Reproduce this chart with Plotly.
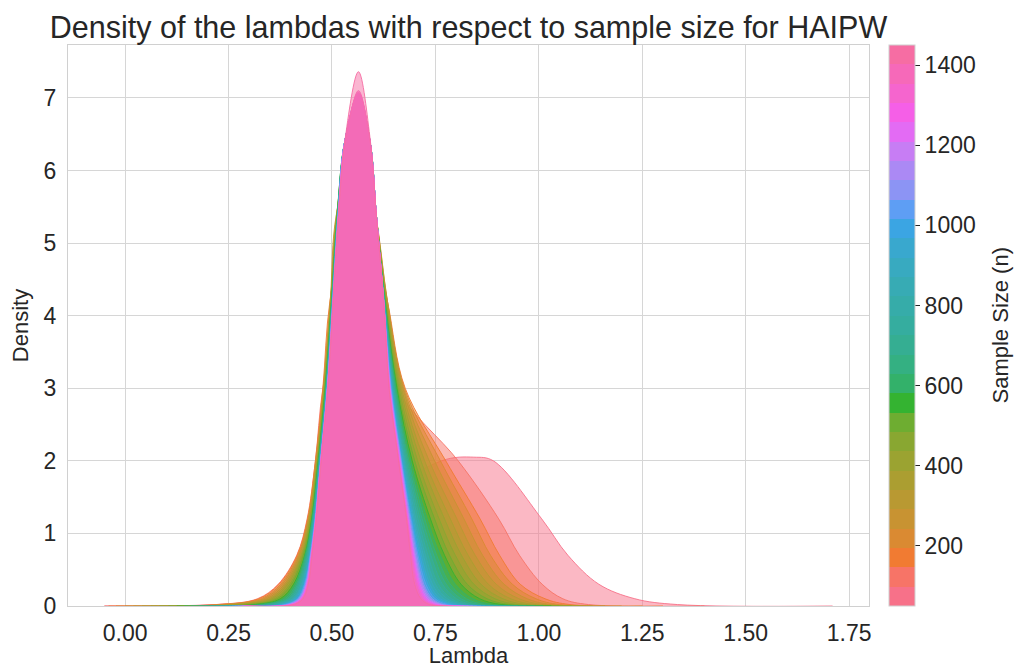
import math
import plotly.graph_objects as go

# ---------------- data ----------------
sample_sizes = [50, 100, 150, 200, 250, 300, 350, 400, 450, 500, 550, 600, 650, 700,
                750, 800, 850, 900, 950, 1000, 1050, 1100, 1150, 1200, 1250, 1300,
                1350, 1400, 1450]

# density levels at which each curve's edges were read
density_levels = [0, 0.02, 0.1, 0.3, 0.7, 1.2, 2.0, 3.0, 4.2, 5.4, 6.4]

# position and height of the mode of each curve
peak_lambda = [0.843, 0.556, 0.562, 0.563, 0.563, 0.564, 0.564, 0.564, 0.564, 0.564,
               0.564, 0.564, 0.564, 0.564, 0.564, 0.564, 0.564, 0.564, 0.564, 0.564,
               0.564, 0.564, 0.564, 0.564, 0.564, 0.564, 0.564, 0.564, 0.564]
peak_density = [2.05, 4.45, 5.6, 6.1, 6.35, 6.55, 6.7, 6.8, 6.85, 6.9,
                6.95, 6.97, 6.99, 7.0, 7.01, 7.02, 7.02, 7.03, 7.03, 7.04,
                7.04, 7.05, 7.05, 7.06, 7.06, 7.07, 7.08, 7.10, 7.36]

# lambda where the rising (left) side of each curve reaches each density level
left_lambda = [
    [-0.05, 0.22, 0.36, 0.44, 0.495, 0.545, 0.765, None, None, None, None],
    [-0.05, 0.22, 0.32, 0.37, 0.415, 0.44, 0.46, 0.478, 0.522, None, None],
    [-0.04, 0.226, 0.323, 0.372, 0.416, 0.441, 0.46, 0.478, 0.495, 0.538, None],
    [-0.022, 0.235, 0.329, 0.376, 0.418, 0.442, 0.461, 0.479, 0.496, 0.518, None],
    [0.0, 0.247, 0.335, 0.38, 0.42, 0.443, 0.462, 0.48, 0.496, 0.511, None],
    [0.02, 0.258, 0.342, 0.385, 0.422, 0.444, 0.463, 0.48, 0.497, 0.511, 0.548],
    [0.041, 0.269, 0.349, 0.389, 0.425, 0.446, 0.464, 0.481, 0.497, 0.512, 0.54],
    [0.062, 0.281, 0.355, 0.393, 0.427, 0.447, 0.465, 0.482, 0.498, 0.512, 0.536],
    [0.083, 0.292, 0.362, 0.398, 0.429, 0.448, 0.465, 0.483, 0.498, 0.512, 0.534],
    [0.104, 0.304, 0.368, 0.402, 0.431, 0.45, 0.466, 0.483, 0.499, 0.513, 0.532],
    [0.125, 0.315, 0.375, 0.407, 0.434, 0.451, 0.467, 0.484, 0.499, 0.513, 0.531],
    [0.143, 0.325, 0.381, 0.41, 0.435, 0.452, 0.468, 0.485, 0.499, 0.513, 0.531],
    [0.16, 0.334, 0.386, 0.414, 0.437, 0.453, 0.468, 0.485, 0.5, 0.514, 0.531],
    [0.178, 0.344, 0.392, 0.417, 0.439, 0.454, 0.469, 0.486, 0.5, 0.514, 0.531],
    [0.192, 0.351, 0.396, 0.42, 0.441, 0.455, 0.47, 0.486, 0.501, 0.514, 0.531],
    [0.206, 0.359, 0.4, 0.423, 0.442, 0.456, 0.47, 0.487, 0.501, 0.514, 0.531],
    [0.22, 0.366, 0.405, 0.426, 0.444, 0.457, 0.471, 0.487, 0.501, 0.515, 0.531],
    [0.23, 0.372, 0.408, 0.428, 0.445, 0.458, 0.471, 0.488, 0.501, 0.515, 0.531],
    [0.241, 0.378, 0.411, 0.431, 0.446, 0.458, 0.472, 0.488, 0.502, 0.515, 0.531],
    [0.251, 0.383, 0.415, 0.433, 0.447, 0.459, 0.472, 0.488, 0.502, 0.515, 0.531],
    [0.258, 0.387, 0.417, 0.434, 0.448, 0.459, 0.472, 0.489, 0.502, 0.515, 0.531],
    [0.265, 0.391, 0.419, 0.436, 0.448, 0.46, 0.473, 0.489, 0.502, 0.515, 0.531],
    [0.272, 0.395, 0.421, 0.437, 0.449, 0.46, 0.473, 0.489, 0.502, 0.516, 0.531],
    [0.279, 0.399, 0.423, 0.439, 0.45, 0.461, 0.473, 0.489, 0.503, 0.516, 0.531],
    [0.283, 0.4, 0.424, 0.439, 0.45, 0.461, 0.473, 0.489, 0.503, 0.516, 0.531],
    [0.286, 0.402, 0.426, 0.44, 0.451, 0.461, 0.473, 0.49, 0.503, 0.516, 0.532],
    [0.29, 0.404, 0.427, 0.441, 0.451, 0.461, 0.474, 0.49, 0.503, 0.516, 0.532],
    [0.293, 0.406, 0.428, 0.442, 0.451, 0.462, 0.474, 0.49, 0.503, 0.516, 0.533],
    [0.30, 0.41, 0.43, 0.443, 0.452, 0.462, 0.474, 0.49, 0.503, 0.516, 0.531],
]

# lambda where the falling (right) side of each curve reaches each density level
right_lambda = [
    [1.71, 1.335, 1.232, 1.145, 1.07, 1.007, 0.89, None, None, None, None],
    [1.40, 1.12, 1.058, 1.008, 0.953, 0.903, 0.805, 0.655, 0.585, None, None],
    [1.30, 1.075, 1.015, 0.955, 0.905, 0.858, 0.775, 0.677, 0.634, 0.588, None],
    [1.25, 1.05, 0.993, 0.936, 0.883, 0.838, 0.762, 0.675, 0.634, 0.603, None],
    [1.20, 1.03, 0.972, 0.916, 0.864, 0.819, 0.748, 0.673, 0.634, 0.605, None],
    [1.16, 1.01, 0.952, 0.897, 0.846, 0.802, 0.735, 0.671, 0.633, 0.606, 0.580],
    [1.13, 0.99, 0.932, 0.878, 0.829, 0.786, 0.724, 0.668, 0.632, 0.606, 0.586],
    [1.10, 0.97, 0.913, 0.86, 0.813, 0.772, 0.715, 0.665, 0.631, 0.607, 0.589],
    [1.08, 0.95, 0.894, 0.843, 0.798, 0.759, 0.707, 0.662, 0.63, 0.607, 0.59],
    [1.05, 0.93, 0.875, 0.827, 0.784, 0.748, 0.70, 0.659, 0.629, 0.607, 0.591],
    [1.03, 0.91, 0.857, 0.812, 0.772, 0.738, 0.694, 0.657, 0.628, 0.607, 0.592],
    [1.01, 0.89, 0.84, 0.798, 0.762, 0.73, 0.69, 0.655, 0.628, 0.607, 0.592],
    [0.99, 0.87, 0.825, 0.786, 0.753, 0.724, 0.686, 0.653, 0.627, 0.607, 0.592],
    [0.97, 0.855, 0.812, 0.776, 0.746, 0.718, 0.683, 0.651, 0.627, 0.607, 0.592],
    [0.95, 0.84, 0.801, 0.767, 0.739, 0.713, 0.68, 0.65, 0.626, 0.607, 0.592],
    [0.93, 0.83, 0.789, 0.757, 0.732, 0.708, 0.677, 0.648, 0.626, 0.607, 0.592],
    [0.92, 0.82, 0.779, 0.75, 0.726, 0.703, 0.675, 0.647, 0.626, 0.607, 0.592],
    [0.90, 0.81, 0.77, 0.743, 0.721, 0.699, 0.673, 0.646, 0.626, 0.607, 0.592],
    [0.89, 0.80, 0.762, 0.737, 0.716, 0.696, 0.671, 0.645, 0.625, 0.607, 0.592],
    [0.87, 0.79, 0.755, 0.732, 0.712, 0.693, 0.669, 0.644, 0.625, 0.607, 0.592],
    [0.86, 0.78, 0.749, 0.727, 0.708, 0.691, 0.668, 0.643, 0.625, 0.607, 0.592],
    [0.85, 0.77, 0.743, 0.722, 0.705, 0.689, 0.667, 0.642, 0.625, 0.607, 0.592],
    [0.84, 0.765, 0.739, 0.719, 0.702, 0.687, 0.666, 0.641, 0.625, 0.607, 0.592],
    [0.83, 0.76, 0.735, 0.716, 0.70, 0.686, 0.665, 0.64, 0.625, 0.607, 0.592],
    [0.82, 0.755, 0.731, 0.713, 0.698, 0.684, 0.664, 0.64, 0.625, 0.607, 0.592],
    [0.81, 0.75, 0.727, 0.71, 0.696, 0.683, 0.663, 0.639, 0.625, 0.607, 0.592],
    [0.80, 0.745, 0.723, 0.707, 0.694, 0.682, 0.662, 0.639, 0.625, 0.607, 0.592],
    [0.79, 0.74, 0.719, 0.704, 0.692, 0.681, 0.661, 0.638, 0.625, 0.607, 0.592],
    [0.78, 0.735, 0.715, 0.70, 0.69, 0.68, 0.661, 0.638, 0.625, 0.607, 0.593],
]

x_ticks = [0.0, 0.25, 0.5, 0.75, 1.0, 1.25, 1.5, 1.75]
y_ticks = [0, 1, 2, 3, 4, 5, 6, 7]
cbar_ticks = [200, 400, 600, 800, 1000, 1200, 1400]

# ---------------- HUSL palette (same maths as seaborn.husl_palette) ----------------
_M = [[3.2406, -1.5372, -0.4986],
      [-0.9689, 1.8758, 0.0415],
      [0.0557, -0.2040, 1.0570]]
_REF_U, _REF_V = 0.19784, 0.46834


def _max_chroma(L, H):
    hrad = math.radians(H)
    sinH, cosH = math.sin(hrad), math.cos(hrad)
    sub1 = (L + 16) ** 3 / 1560896.0
    sub2 = sub1 if sub1 > 0.008856 else L / 903.3
    result = float("inf")
    for m1, m2, m3 in _M:
        top = (0.99915 * m1 + 1.05122 * m2 + 1.14460 * m3) * sub2
        rbottom = 0.86330 * m3 - 0.17266 * m2
        lbottom = 0.12949 * m3 - 0.38848 * m1
        bottom = (rbottom * sinH + lbottom * cosH) * sub2
        for t in (0.0, 1.0):
            C = L * (top - 1.05122 * t) / (bottom + 0.17266 * sinH * t)
            if 0.0 < C < result:
                result = C
    return result


def _f_inv(t):
    return t ** 3 if t ** 3 > 0.008856 else (116.0 * t - 16.0) / 903.3


def _from_linear(c):
    return 12.92 * c if c <= 0.0031308 else 1.055 * c ** (1 / 2.4) - 0.055


def husl_to_rgb(H, S, L):
    C = _max_chroma(L, H) / 100.0 * S
    hr = math.radians(H)
    U, V = math.cos(hr) * C, math.sin(hr) * C
    varY = _f_inv((L + 16.0) / 116.0)
    varU = U / (13.0 * L) + _REF_U
    varV = V / (13.0 * L) + _REF_V
    Y = varY
    X = -(9.0 * Y * varU) / ((varU - 4.0) * varV - varU * varV)
    Z = (9.0 * Y - 15.0 * varV * Y - varV * X) / (3.0 * varV)
    rgb = [_from_linear(r[0] * X + r[1] * Y + r[2] * Z) for r in _M]
    return [min(1.0, max(0.0, c)) for c in rgb]


def husl_palette(n, h=0.01, s=0.9, l=0.65):
    out = []
    for i in range(n):
        hue = ((i / n) + h) % 1 * 359
        r, g, b = husl_to_rgb(hue, s * 99, l * 99)
        out.append((round(r * 255), round(g * 255), round(b * 255)))
    return out


palette = husl_palette(len(sample_sizes))

# ---------------- figure ----------------
fig = go.Figure()

for i, n in enumerate(sample_sizes):
    xs, ys = [], []
    for lev, xv in zip(density_levels, left_lambda[i]):
        if xv is not None:
            xs.append(xv)
            ys.append(lev)
    xs.append(peak_lambda[i])
    ys.append(peak_density[i])
    for lev, xv in reversed(list(zip(density_levels, right_lambda[i]))):
        if xv is not None:
            xs.append(xv)
            ys.append(lev)
    r, g, b = palette[i]
    fig.add_trace(go.Scatter(
        x=xs, y=ys, mode="lines", line=dict(shape="spline", smoothing=1.0,
                                             color=f"rgba({r},{g},{b},0.9)", width=1),
        fill="tozeroy", fillcolor=f"rgba({r},{g},{b},0.5)",
        name=f"n={n}", showlegend=False, hoverinfo="skip"))

# discrete colour bar (one band per sample size)
cmin, cmax = sample_sizes[0], sample_sizes[-1]
k = len(sample_sizes)
colorscale = []
for i, (r, g, b) in enumerate(palette):
    c = f"rgb({r},{g},{b})"
    colorscale.append([i / k, c])
    colorscale.append([(i + 1) / k, c])

PLOT_L, PLOT_R, PLOT_T, PLOT_B = 68, 869, 45, 606
PW = PLOT_R - PLOT_L

fig.add_trace(go.Scatter(
    x=[peak_lambda[-1]], y=[0], mode="markers",
    marker=dict(size=1, opacity=0, color=[cmin], cmin=cmin, cmax=cmax,
                colorscale=colorscale, showscale=True,
                colorbar=dict(
                    x=(889 - PLOT_L) / PW, xanchor="left", xpad=0,
                    y=0.5, yanchor="middle", ypad=0,
                    len=1.0, lenmode="fraction", thickness=26,
                    outlinewidth=1, outlinecolor="#d0d0d0",
                    tickvals=cbar_ticks, ticks="outside", ticklen=5,
                    tickcolor="#262626", tickwidth=1,
                    tickfont=dict(size=23, color="#262626"))),
    showlegend=False, hoverinfo="skip"))

all_x = [v for row in left_lambda + right_lambda for v in row if v is not None]
x_lo, x_hi = min(all_x), max(all_x)
pad = 0.05 * (x_hi - x_lo)
y_hi = 1.05 * max(peak_density)

font_family = "Liberation Sans, Arial, Helvetica, sans-serif"
fig.update_layout(
    width=1017, height=668,
    margin=dict(l=PLOT_L, r=1017 - PLOT_R, t=PLOT_T, b=668 - PLOT_B, autoexpand=False),
    paper_bgcolor="white", plot_bgcolor="white",
    font=dict(family=font_family, color="#262626"),
    title=dict(text="Density of the lambdas with respect to sample size for HAIPW",
               x=0.5, xref="paper", xanchor="center",
               y=1 - 27 / 668, yref="container", yanchor="middle",
               font=dict(size=30.5, color="#262626")),
    showlegend=False,
    annotations=[dict(text="Sample Size (n)", textangle=-90,
                      x=(1000 - PLOT_L) / PW, xref="paper", xanchor="center",
                      y=0.5, yref="paper", yanchor="middle", showarrow=False,
                      font=dict(size=22, color="#262626"))],
)
fig.update_xaxes(
    range=[x_lo - pad, x_hi + pad], tickvals=x_ticks, tickformat=".2f",
    showgrid=True, gridcolor="#d6d6d6", gridwidth=1.3, zeroline=False,
    showline=True, linecolor="#d0d0d0", linewidth=1.3, mirror=True,
    ticks="", ticklabelstandoff=6, tickfont=dict(size=23, color="#262626"),
    automargin=False,
    title=dict(text="Lambda", font=dict(size=22, color="#262626"), standoff=8),
)
fig.update_yaxes(
    range=[0, y_hi], tickvals=y_ticks,
    showgrid=True, gridcolor="#d6d6d6", gridwidth=1.3, zeroline=False,
    showline=True, linecolor="#d0d0d0", linewidth=1.3, mirror=True,
    ticks="", ticklabelstandoff=6, tickfont=dict(size=23, color="#262626"),
    automargin=False,
    title=dict(text="Density", font=dict(size=22, color="#262626"), standoff=8),
)

fig.write_html("out.html")
